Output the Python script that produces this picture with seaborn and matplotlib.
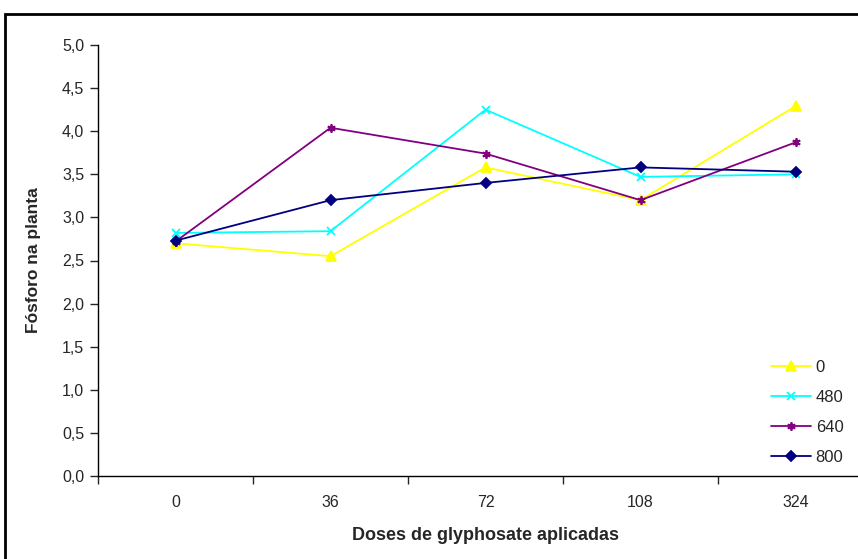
import matplotlib
matplotlib.use("Agg")
import matplotlib.pyplot as plt
import seaborn as sns
import pandas as pd
import numpy as np
from matplotlib.patches import Rectangle
from matplotlib.ticker import FixedLocator

categories = ["0", "36", "72", "108", "324"]
series_names = ["0", "480", "640", "800"]
s0 = [2.70, 2.55, 3.58, 3.20, 4.29]
s480 = [2.82, 2.84, 4.25, 3.47, 3.50]
s640 = [2.72, 4.04, 3.74, 3.20, 3.87]
s800 = [2.73, 3.20, 3.40, 3.58, 3.53]
yticks = [0.0, 0.5, 1.0, 1.5, 2.0, 2.5, 3.0, 3.5, 4.0, 4.5, 5.0]

colors = {"0": "#FFFF00", "480": "#00FFFF", "640": "#800080", "800": "#000080"}
markers = {"0": "^", "480": "x", "640": (6, 2, 0), "800": "D"}
msizes = {"0": 7, "480": 6, "640": 6, "800": 5}

sns.set_style("white")
plt.rcParams["font.family"] = ["Liberation Sans", "DejaVu Sans"]

fig = plt.figure(figsize=(8.58, 5.59), dpi=100)
W, H = 858, 559
ax = fig.add_axes([98 / W, (559 - 476) / H, 775 / W, 431 / H])

for name, vals in zip(series_names, [s0, s480, s640, s800]):
    d = pd.DataFrame({"pos": np.arange(len(categories)), "val": vals})
    sns.lineplot(data=d, x="pos", y="val", color=colors[name], marker=markers[name],
                 markersize=msizes[name], markeredgewidth=1.3, markeredgecolor=colors[name],
                 linewidth=1.3, label=name, ax=ax)

ax.set_xlim(-0.5, 4.5)
ax.set_ylim(0, 5.0)
ax.set_xticks(range(len(categories)))
ax.set_xticklabels(categories, fontsize=11.5)
ax.xaxis.set_minor_locator(FixedLocator([-0.5, 0.5, 1.5, 2.5, 3.5, 4.5]))
ax.tick_params(axis="x", which="major", length=0, pad=14)
ax.tick_params(axis="x", which="minor", length=6, width=1, direction="out", bottom=True)
ax.set_yticks(yticks)
ax.set_yticklabels([f"{t:.1f}".replace(".", ",") for t in yticks], fontsize=11.5)
ax.tick_params(axis="y", length=6, width=1, direction="out", left=True, pad=4)

for side in ["top", "right"]:
    ax.spines[side].set_visible(False)
for side in ["left", "bottom"]:
    ax.spines[side].set_color("#000000")
    ax.spines[side].set_linewidth(1.0)

ax.set_xlabel("Doses de glyphosate aplicadas", fontsize=13, fontweight="bold", labelpad=12)
ax.set_ylabel("Fósforo na planta", fontsize=12.5, fontweight="bold", labelpad=15)

leg = ax.legend(loc="upper left", bbox_to_anchor=(764 / W, 1 - 353 / H),
                bbox_transform=fig.transFigure, frameon=False, fontsize=12,
                handlelength=2.4, handletextpad=0.3, labelspacing=0.9, borderaxespad=0)

fig.patches.append(Rectangle((5 / W, -0.1), 1.2, (1 - 14 / H) + 0.1, transform=fig.transFigure,
                             fill=False, edgecolor="black", linewidth=2, clip_on=False))

fig.savefig("out.png", dpi=100)
